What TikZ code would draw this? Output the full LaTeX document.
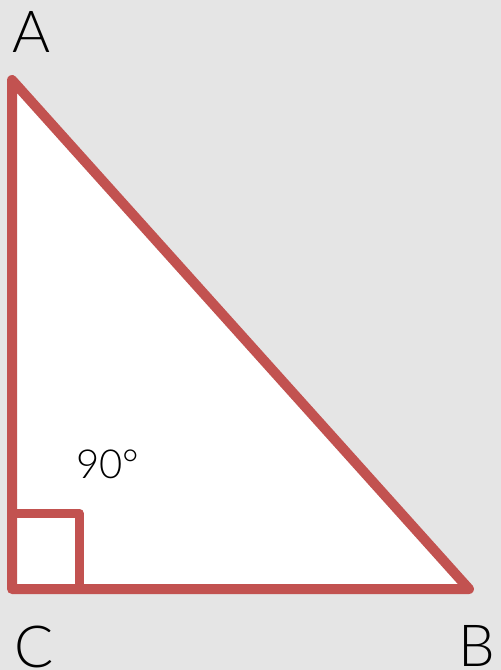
\documentclass[tikz,border=0pt]{standalone}
\usepackage{fontspec}
\setmainfont{Lato}[UprightFont=* Light]
\usetikzlibrary{positioning}
\definecolor{trired}{HTML}{C25250}
\definecolor{paper}{HTML}{E5E5E5}
\tikzset{
    side/.style={draw=trired,line width=10pt,line join=round,line cap=round},
    lbl/.style={inner sep=0pt,font=\fontsize{58}{60}\selectfont},
    anglelbl/.style={inner sep=0pt,font=\fontsize{40}{42}\selectfont},
}
\begin{document}
\begin{tikzpicture}[x=1pt,y=-1pt]
    \fill[paper] (0,0) rectangle (501,670);
    \useasboundingbox (0,0) rectangle (501,670);
    \coordinate (A) at (12,80);
    \coordinate (C) at (12,589);
    \coordinate (B) at (469,589);
    \coordinate (sq) at (79,513);

    \filldraw[side,fill=white] (A) -- (B) -- (C) -- cycle;
    \draw[side,line width=9pt] (C |- sq) -- (sq) -- (sq |- C);

    \node[lbl] (la) at (32,32) {A};
    \node[lbl] (lc) at (34,647) {C};
    \node[lbl] (lb) at (477,646) {B};
    \node[anglelbl] (ang) at (108,464) {90°};
\end{tikzpicture}
\end{document}
